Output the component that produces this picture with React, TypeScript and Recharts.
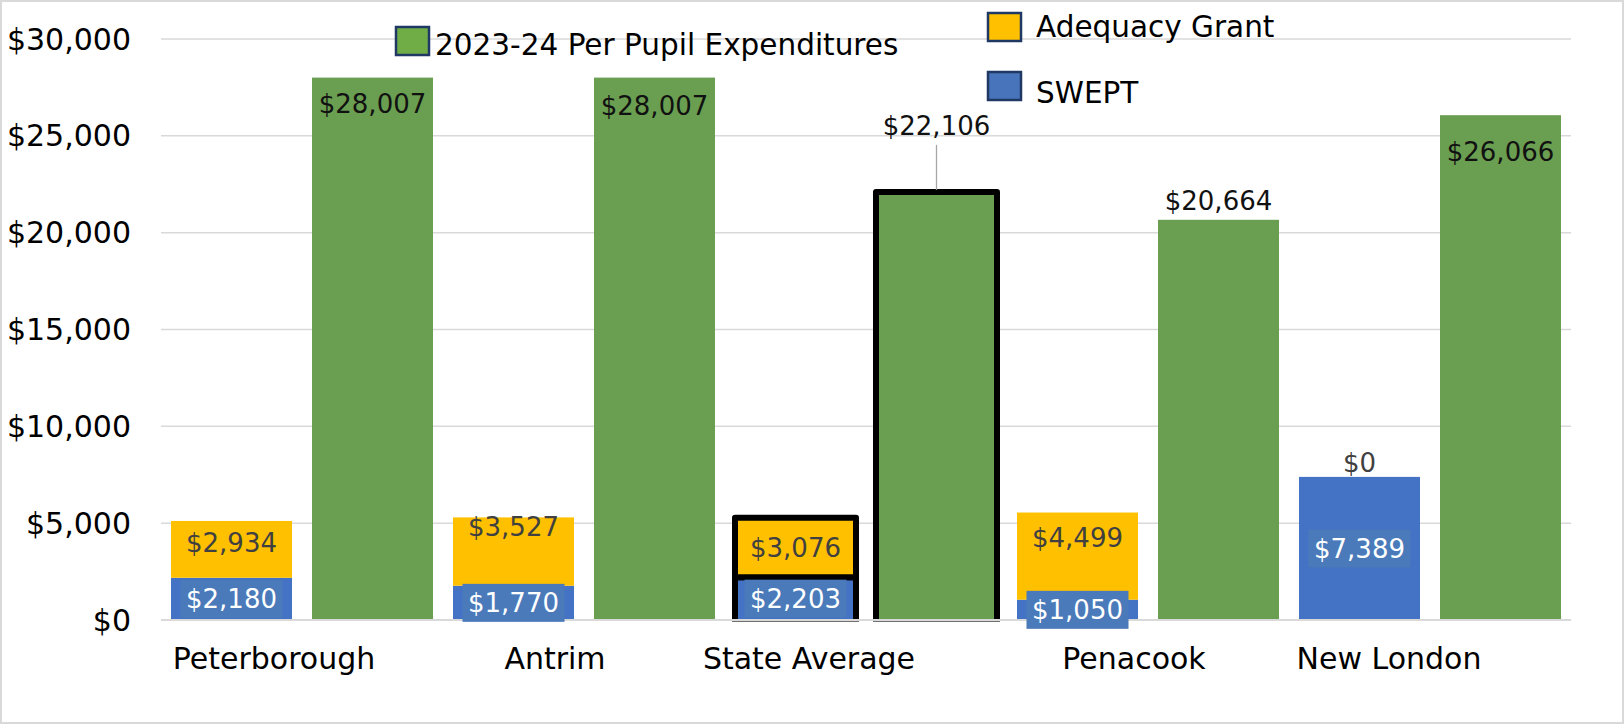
import React from "react";
import { BarChart, Bar, XAxis, YAxis, CartesianGrid, Legend, LabelList } from "recharts";

// dados
const categorias = ["Peterborough", "Antrim", "State Average", "Penacook", "New London"];
const swept = [2180, 1770, 2203, 1050, 7389];
const adequacy = [2934, 3527, 3076, 4499, 0];
const perPupil = [28007, 28007, 22106, 20664, 26066];
const yTicks = [0, 5000, 10000, 15000, 20000, 25000, 30000];
const destaque = ["State Average"];

const data = categorias.map((name, i) => ({
  name,
  swept: swept[i],
  adequacy: adequacy[i],
  perPupil: perPupil[i],
}));

// estilo
const FONT = "'DejaVu Sans', sans-serif";
const GREEN = "#6a9e50";
const YELLOW = "#ffc000";
const BLUE = "#4472c4";
const BLUE_BOX = "#4a7aba";
const LABEL_SIZE = 26;

// deslocamentos dos rótulos (px)
const tickShift = [-28, -29, -57, -14, -41];
const greenLabelDy = [26, 28, -66, -19, 36];
const yellowLabelDy = [-7, -25, 0, -18, -14];

const legendKeys = [
  { label: "2023-24 Per Pupil Expenditures", color: "#70ad47", x: 396, y: 27, tx: 435, base: 55 },
  { label: "Adequacy Grant", color: YELLOW, x: 988, y: 13, tx: 1036, base: 37 },
  { label: "SWEPT", color: "#4874bc", x: 988, y: 72, tx: 1036, base: 103 },
];

const money = (v: number) => "$" + v.toLocaleString("en-US");
const isHighlighted = (p: any) => destaque.includes(p?.payload?.name ?? p?.name);

// barra com contorno preto (só a média estadual)
function openBar(props: any, full: boolean) {
  const { x, y, width, height, fill } = props;
  if (!height && height !== 0) return null;
  const hl = isHighlighted(props);
  return (
    <g>
      <rect x={x} y={y} width={width} height={height} fill={fill} />
      {hl && full && (
        <rect x={x} y={y} width={width} height={height} fill="none" stroke="#000" strokeWidth={6} strokeLinejoin="round" />
      )}
      {hl && !full && (
        <>
          <path
            d={`M${x},${y + height} L${x},${y} L${x + width},${y} L${x + width},${y + height}`}
            fill="none" stroke="#000" strokeWidth={6} strokeLinejoin="round"
          />
          <line x1={x - 3} x2={x + width + 3} y1={y + height + 1} y2={y + height + 1} stroke="#404040" strokeWidth={1.5} />
        </>
      )}
    </g>
  );
}

function CategoryTick(props: any) {
  const { x, y, payload, index } = props;
  return (
    <text x={x + (tickShift[index] ?? 0)} y={y} textAnchor="middle" fontSize={30} fontFamily={FONT} fill="#000">
      {payload.value}
    </text>
  );
}

function sweptLabel(p: any) {
  const { x, y, width, height, value, index } = p;
  const cx = x + width / 2;
  const cy = y + height / 2;
  return (
    <g key={`s-${index}`}>
      <rect x={cx - 51} y={cy - 19} width={102} height={38} fill={BLUE_BOX} />
      <text x={cx} y={cy} dy="0.36em" textAnchor="middle" fontSize={LABEL_SIZE} fontFamily={FONT} fill="#fff">
        {money(value)}
      </text>
    </g>
  );
}

function adequacyLabel(p: any) {
  const { x, y, width, height, value, index } = p;
  const cx = x + width / 2;
  const cy = value === 0 ? y + yellowLabelDy[index] : y + height / 2 + yellowLabelDy[index];
  return (
    <text key={`a-${index}`} x={cx} y={cy} dy="0.36em" textAnchor="middle" fontSize={LABEL_SIZE} fontFamily={FONT} fill="#404040">
      {money(value)}
    </text>
  );
}

function greenLabel(p: any) {
  const { x, y, width, value, index } = p;
  const cx = x + width / 2;
  const dy = greenLabelDy[index];
  const isHl = destaque.includes(categorias[index]);
  return (
    <g key={`g-${index}`}>
      {isHl && <line x1={cx} x2={cx} y1={y + dy + 19} y2={y - 2} stroke="#a6a6a6" strokeWidth={1.3} />}
      <text x={cx} y={y + dy} dy="0.36em" textAnchor="middle" fontSize={LABEL_SIZE} fontFamily={FONT} fill="#111">
        {money(value)}
      </text>
    </g>
  );
}

function renderLegend() {
  return (
    <svg width={1624} height={110} style={{ position: "absolute", left: 0, top: 0, overflow: "visible" }}>
      {legendKeys.map((k) => (
        <g key={k.label}>
          <rect x={k.x} y={k.y} width={33} height={28} fill={k.color} stroke="#1f3864" strokeWidth={2.5} />
          <text x={k.tx} y={k.base} fontSize={29.5} fontFamily={FONT} fill="#000">{k.label}</text>
        </g>
      ))}
    </svg>
  );
}

export default function App() {
  return (
    <div
      style={{
        position: "absolute", left: 0, top: 0, width: 1624, height: 724,
        background: "#fff", boxShadow: "inset 0 0 0 2px #d9d9d9", fontFamily: FONT,
      }}
    >
      <BarChart
        width={1624}
        height={724}
        data={data}
        margin={{ top: 39, right: 53, bottom: 0, left: 0 }}
        barCategoryGap={10}
        barGap={20}
      >
        <CartesianGrid vertical={false} stroke="#d9d9d9" strokeWidth={1.5} />
        <XAxis
          dataKey="name"
          height={104}
          tickSize={0}
          tickMargin={49}
          interval={0}
          axisLine={{ stroke: "#d9d9d9", strokeWidth: 2 }}
          tickLine={false}
          tick={<CategoryTick />}
        />
        <YAxis
          width={161}
          domain={[0, 30000]}
          ticks={yTicks}
          tickSize={0}
          tickMargin={30}
          axisLine={false}
          tickLine={false}
          tick={{ fill: "#000", fontSize: 30, fontFamily: FONT }}
          tickFormatter={money}
        />
        <Legend content={renderLegend} wrapperStyle={{ left: 0, top: 0, width: 1624, height: 0 }} />
        <Bar dataKey="swept" name="SWEPT" stackId="a" fill={BLUE} isAnimationActive={false} shape={(p: any) => openBar(p, false)}>
          <LabelList dataKey="swept" content={sweptLabel} />
        </Bar>
        <Bar dataKey="adequacy" name="Adequacy Grant" stackId="a" fill={YELLOW} isAnimationActive={false} shape={(p: any) => openBar(p, true)}>
          <LabelList dataKey="adequacy" content={adequacyLabel} />
        </Bar>
        <Bar dataKey="perPupil" name="2023-24 Per Pupil Expenditures" fill={GREEN} isAnimationActive={false} shape={(p: any) => openBar(p, false)}>
          <LabelList dataKey="perPupil" content={greenLabel} />
        </Bar>
      </BarChart>
    </div>
  );
}
